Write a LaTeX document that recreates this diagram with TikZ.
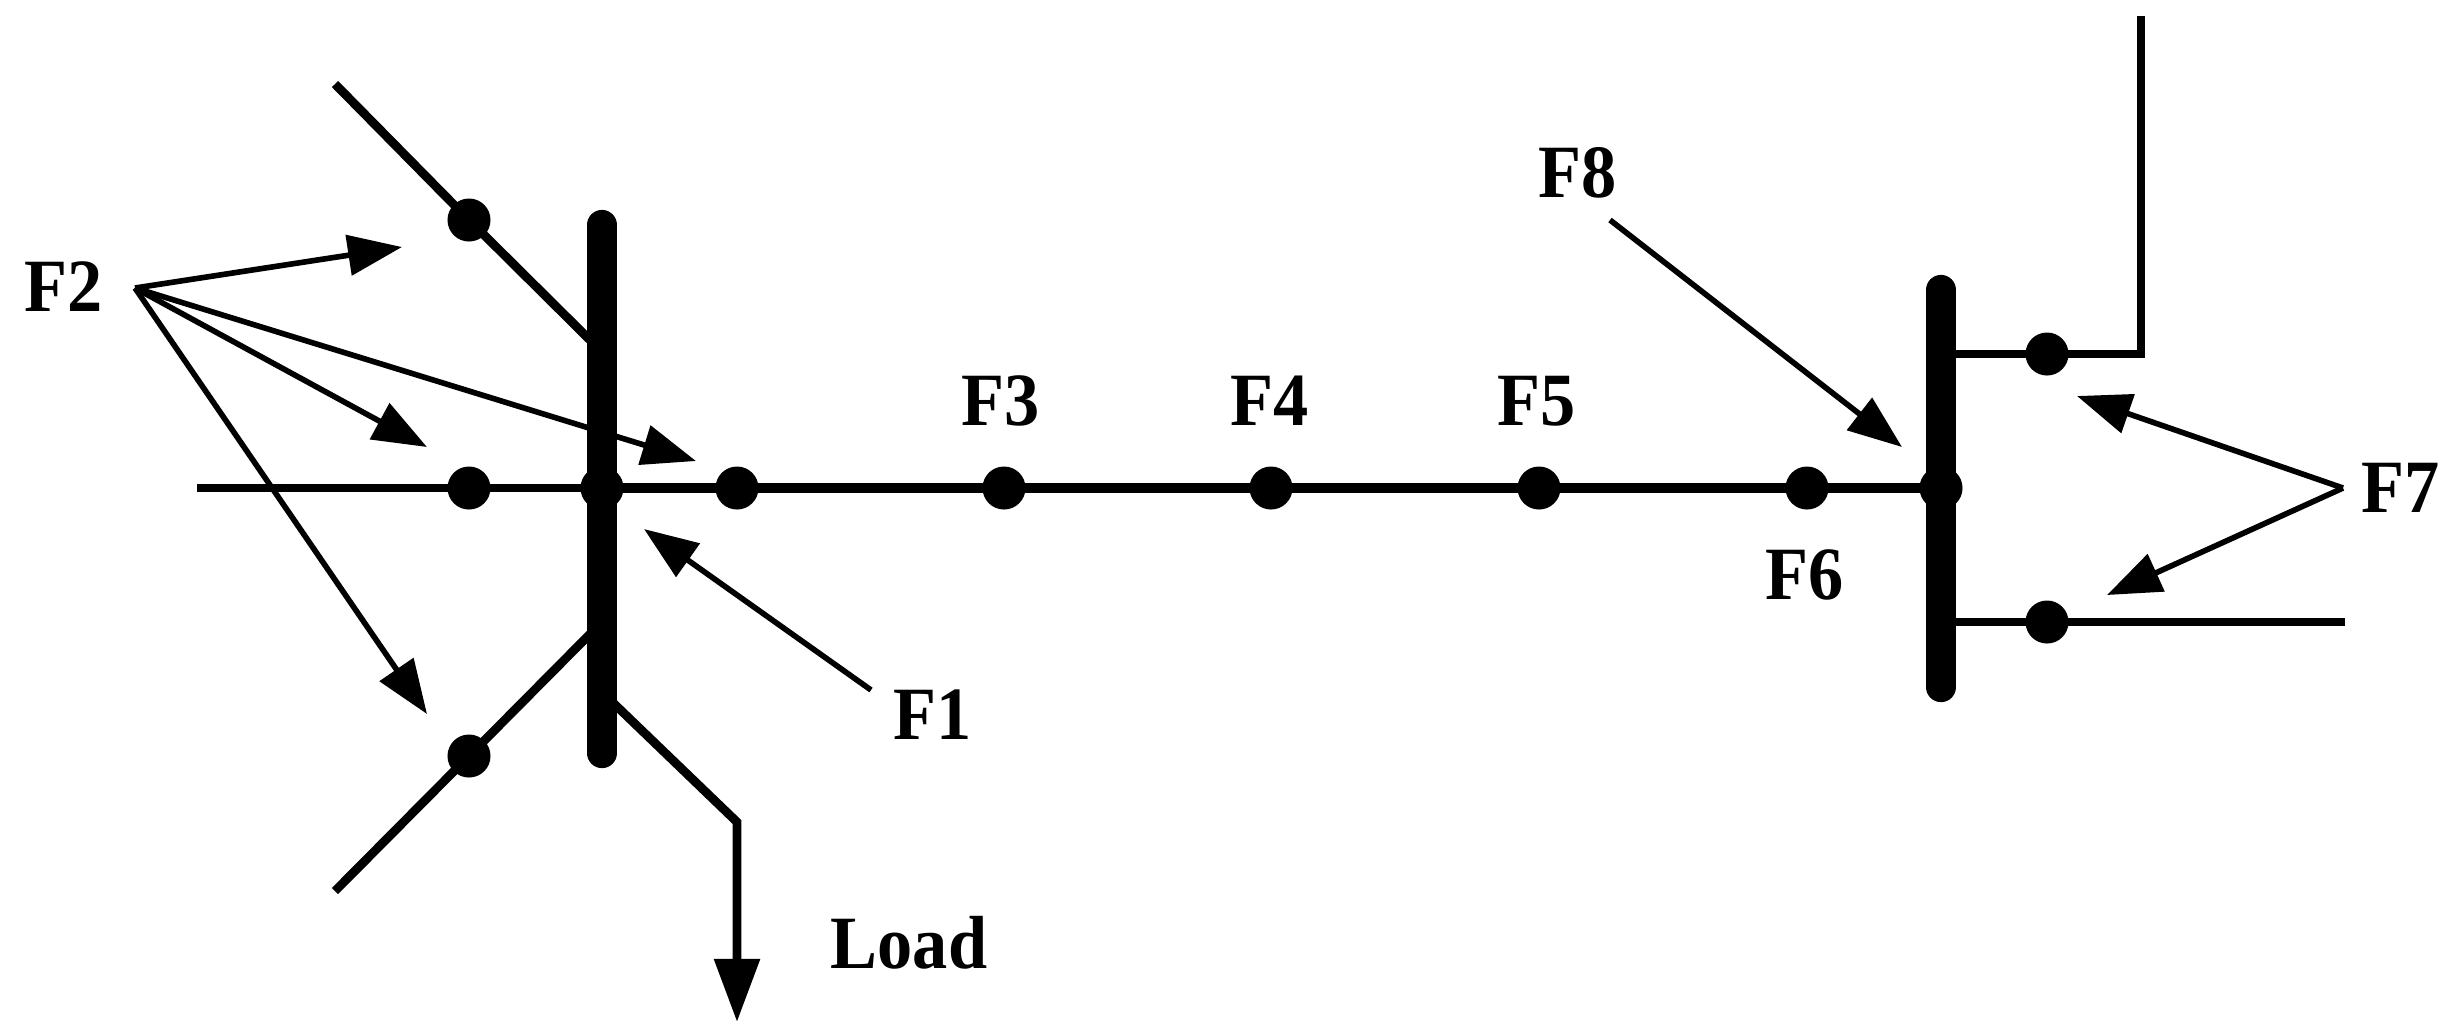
\documentclass[tikz,border=0pt]{standalone}
\usepackage{fontspec}
\setmainfont{Liberation Serif}
\usetikzlibrary{arrows.meta}

\tikzset{
  dot/.style={shape=circle,fill=black,inner sep=0pt,outer sep=0pt,minimum size=0.43cm},
  lbl/.style={font=\fontsize{20pt}{22pt}\selectfont\bfseries,inner sep=0pt,yscale=1.07,transform shape},
  bus/.style={line width=8.6pt,line cap=round},
  feeder/.style={line width=3pt},
  branch/.style={line width=2.5pt},
  pointer/.style={line width=1.6pt,-{Triangle[length=0.54cm,width=0.4cm]}},
}

\begin{document}
\begin{tikzpicture}[x=0.01cm,y=-0.01cm]
\useasboundingbox (0,0) rectangle (2458,1035);

\coordinate (west) at (197,488);
\coordinate (nwEnd) at (335,84);
\coordinate (nwBus) at (592,342);
\coordinate (swEnd) at (335,891);
\coordinate (swBus) at (592,632);
\coordinate (busLtop) at (602,225);
\coordinate (busLbot) at (602,753);
\coordinate (busRtop) at (1941,290);
\coordinate (busRbot) at (1941,687);
\coordinate (loadBus) at (605,695);
\coordinate (loadBend) at (737,822);
\coordinate (loadTip) at (737,1022);
\coordinate (upBus) at (1941,354);
\coordinate (upBend) at (2141,354);
\coordinate (upEnd) at (2141,16);
\coordinate (lowBus) at (1941,622);
\coordinate (lowEnd) at (2345,622);

\node[dot] at (469,220) (Dnw) {};
\node[dot] at (469,488) (Dw) {};
\node[dot] at (469,756) (Dsw) {};
\node[dot] at (602,488) (Jl) {};
\node[dot] at (737,488) (D1) {};
\node[dot] at (1004,488) (D3) {};
\node[dot] at (1271,488) (D4) {};
\node[dot] at (1539,488) (D5) {};
\node[dot] at (1807,488) (D6) {};
\node[dot] at (1941,488) (Jr) {};
\node[dot] at (2047,354) (Dup) {};
\node[dot] at (2047,622) (Dlow) {};

\node[lbl] at (64,287) (F2) {F2};
\node[lbl] at (933,715) (F1) {F1};
\node[lbl] at (1001,401) (F3) {F3};
\node[lbl] at (1270,401) (F4) {F4};
\node[lbl] at (1537,401) (F5) {F5};
\node[lbl] at (1805,575) (F6) {F6};
\node[lbl] at (2401,488) (F7) {F7};
\node[lbl] at (1578,173) (F8) {F8};
\node[lbl] at (909,943) (Load) {Load};

\draw[bus] (busLtop) -- (busLbot);
\draw[bus] (busRtop) -- (busRbot);

\draw[branch] (nwEnd) -- (Dnw.center);
\draw[branch] (Dnw.center) -- (nwBus);
\draw[branch] (swEnd) -- (Dsw.center);
\draw[branch] (Dsw.center) -- (swBus);
\draw[branch] (west) -- (Dw.center);
\draw[branch] (Dw.center) -- (Jl.center);
\draw[feeder] (Jl.center) -- (D1.center);
\draw[feeder] (D1.center) -- (D3.center);
\draw[feeder] (D3.center) -- (D4.center);
\draw[feeder] (D4.center) -- (D5.center);
\draw[feeder] (D5.center) -- (D6.center);
\draw[feeder] (D6.center) -- (Jr.center);
\draw[branch] (upBus) -- (Dup.center);
\draw[branch] (Dup.center) -- (upBend) -- (upEnd);
\draw[branch] (lowBus) -- (Dlow.center);
\draw[branch] (Dlow.center) -- (lowEnd);
\draw[branch,-{Triangle[length=0.63cm,width=0.44cm]}] (loadBus) -- (loadBend) -- (loadTip);

% fault pointers
\coordinate (F2o) at (135,288);
\coordinate (F2a) at (402,247);
\coordinate (F2b) at (427,447);
\coordinate (F2c) at (696,461);
\coordinate (F2d) at (427,714);
\draw[pointer] (F2o) -- (F2a);
\draw[pointer] (F2o) -- (F2b);
\draw[pointer] (F2o) -- (F2c);
\draw[pointer] (F2o) -- (F2d);

\coordinate (F1o) at (871,690);
\coordinate (F1t) at (644,529);
\draw[pointer] (F1o) -- (F1t);

\coordinate (F8o) at (1610,220);
\coordinate (F8t) at (1902,447);
\draw[pointer] (F8o) -- (F8t);

\coordinate (F7o) at (2343,488);
\coordinate (F7a) at (2077,396);
\coordinate (F7b) at (2107,595);
\draw[pointer] (F7o) -- (F7a);
\draw[pointer] (F7o) -- (F7b);

\end{tikzpicture}
\end{document}
